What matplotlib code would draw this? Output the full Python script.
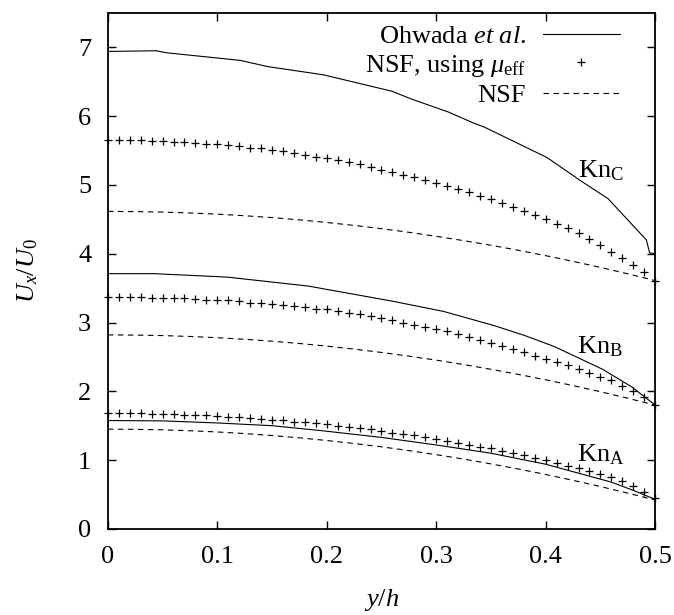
import numpy as np
import matplotlib
matplotlib.use('Agg')
import matplotlib.pyplot as plt

plt.rcParams['font.family'] = 'Liberation Serif'
plt.rcParams['mathtext.fontset'] = 'custom'
plt.rcParams['mathtext.rm'] = 'Liberation Serif'
plt.rcParams['mathtext.it'] = 'Liberation Serif:italic'
plt.rcParams['font.size'] = 19

# Ohwada et al. (solid)
ohw_c_y = [0.0, 0.044, 0.054, 0.121, 0.146, 0.197, 0.260, 0.277, 0.311, 0.334, 0.344, 0.401, 0.432, 0.457, 0.492, 0.495, 0.5]
ohw_c_u = [6.94, 6.95, 6.92, 6.81, 6.72, 6.60, 6.36, 6.25, 6.06, 5.90, 5.84, 5.40, 5.06, 4.80, 4.20, 4.01, 4.00]
ohw_b_y = [0.0, 0.042, 0.109, 0.183, 0.260, 0.307, 0.354, 0.381, 0.408, 0.452, 0.479, 0.5]
ohw_b_u = [3.71, 3.71, 3.66, 3.53, 3.31, 3.16, 2.95, 2.81, 2.65, 2.32, 2.06, 1.80]
ohw_a_y = [0.0, 0.05, 0.10, 0.15, 0.194, 0.25, 0.30, 0.35, 0.40, 0.438, 0.46, 0.48, 0.5]
ohw_a_u = [1.575, 1.57, 1.54, 1.50, 1.43, 1.33, 1.22, 1.10, 0.94, 0.775, 0.68, 0.56, 0.43]

# NSF using mu_eff (+ markers)
mk_y = [0.00, 0.01, 0.02, 0.03, 0.04, 0.05, 0.06, 0.07, 0.08, 0.09,
        0.10, 0.11, 0.12, 0.13, 0.14, 0.15, 0.16, 0.17, 0.18, 0.19,
        0.20, 0.21, 0.22, 0.23, 0.24, 0.25, 0.26, 0.27, 0.28, 0.29,
        0.30, 0.31, 0.32, 0.33, 0.34, 0.35, 0.36, 0.37, 0.38, 0.39,
        0.40, 0.41, 0.42, 0.43, 0.44, 0.45, 0.46, 0.47, 0.48, 0.49, 0.50]
eff_c = [5.66, 5.66, 5.65, 5.65, 5.64, 5.64, 5.63, 5.62, 5.61, 5.60,
         5.59, 5.58, 5.56, 5.54, 5.53, 5.51, 5.49, 5.46, 5.44, 5.41,
         5.39, 5.36, 5.33, 5.30, 5.26, 5.22, 5.19, 5.15, 5.11, 5.07,
         5.03, 4.98, 4.94, 4.89, 4.84, 4.79, 4.74, 4.68, 4.62, 4.56,
         4.50, 4.43, 4.37, 4.30, 4.21, 4.12, 4.03, 3.94, 3.84, 3.73, 3.61]
eff_b = [3.37, 3.37, 3.37, 3.37, 3.36, 3.36, 3.35, 3.35, 3.34, 3.33,
         3.32, 3.32, 3.31, 3.29, 3.28, 3.27, 3.25, 3.24, 3.22, 3.20,
         3.19, 3.17, 3.14, 3.12, 3.09, 3.06, 3.03, 3.00, 2.97, 2.94,
         2.90, 2.87, 2.83, 2.79, 2.74, 2.70, 2.66, 2.61, 2.57, 2.52,
         2.47, 2.43, 2.38, 2.33, 2.27, 2.21, 2.16, 2.08, 2.00, 1.91, 1.80]
eff_a = [1.68, 1.68, 1.68, 1.68, 1.67, 1.67, 1.67, 1.66, 1.65, 1.65,
         1.64, 1.63, 1.62, 1.61, 1.60, 1.59, 1.58, 1.56, 1.55, 1.54,
         1.52, 1.50, 1.48, 1.47, 1.45, 1.42, 1.40, 1.38, 1.36, 1.33,
         1.31, 1.28, 1.25, 1.22, 1.19, 1.17, 1.13, 1.10, 1.07, 1.03,
         1.00, 0.96, 0.92, 0.89, 0.84, 0.80, 0.75, 0.70, 0.62, 0.54, 0.45]

# NSF (dashed)
nsf_y = [0.0, 0.025, 0.05, 0.075, 0.1, 0.125, 0.15, 0.175, 0.2, 0.225, 0.25,
         0.275, 0.3, 0.325, 0.35, 0.375, 0.4, 0.425, 0.45, 0.475, 0.5]
nsf_c = [4.615, 4.612, 4.605, 4.592, 4.575, 4.552, 4.525, 4.492, 4.454, 4.411, 4.364,
         4.311, 4.253, 4.190, 4.123, 4.050, 3.972, 3.889, 3.801, 3.708, 3.61]
nsf_b = [2.82, 2.817, 2.810, 2.797, 2.779, 2.756, 2.728, 2.695, 2.657, 2.613, 2.565,
         2.511, 2.453, 2.389, 2.320, 2.246, 2.167, 2.083, 1.994, 1.899, 1.80]
nsf_a = [1.45, 1.447, 1.440, 1.427, 1.409, 1.386, 1.357, 1.324, 1.285, 1.241, 1.193,
         1.138, 1.079, 1.015, 0.945, 0.871, 0.791, 0.706, 0.616, 0.520, 0.42]

kn_labels = [r'Kn$_{\rm C}$', r'Kn$_{\rm B}$', r'Kn$_{\rm A}$']
kn_pos = [(0.45, 5.20), (0.45, 2.65), (0.45, 1.08)]

fig = plt.figure(figsize=(6.74, 6.15), dpi=100)
ax = fig.add_axes([0.160, 0.140, 0.812, 0.839])

lw = 0.8
dash = (0, (5, 4))
mk = dict(ls='none', marker='+', ms=5.5, mew=0.9, color='black', clip_on=False)
ax.plot(ohw_c_y, ohw_c_u, color='black', lw=lw, label=r'Ohwada $et\ al.$')
ax.plot(mk_y, eff_c, label=r'NSF, using $\mu_{\rm eff}$', **mk)
ax.plot(nsf_y, nsf_c, color='black', lw=lw, ls=dash, label='NSF')

ax.plot(ohw_b_y, ohw_b_u, color='black', lw=lw)
ax.plot(mk_y, eff_b, **mk)
ax.plot(nsf_y, nsf_b, color='black', lw=lw, ls=dash)

ax.plot(ohw_a_y, ohw_a_u, color='black', lw=lw)
ax.plot(mk_y, eff_a, **mk)
ax.plot(nsf_y, nsf_a, color='black', lw=lw, ls=dash)

for lab, (px, py) in zip(kn_labels, kn_pos):
    ax.text(px, py, lab, ha='center', va='center')

ax.set_xlim(0, 0.5)
ax.set_ylim(0, 7.5)
ax.set_xticks([0, 0.1, 0.2, 0.3, 0.4, 0.5])
ax.set_xticklabels(['0', '0.1', '0.2', '0.3', '0.4', '0.5'])
ax.set_yticks([0, 1, 2, 3, 4, 5, 6, 7])
ax.tick_params(direction='in', length=6, width=1, top=True, right=True)
ax.tick_params(axis='x', pad=12)
ax.tick_params(axis='y', pad=12)
for sp in ax.spines.values():
    sp.set_linewidth(1.3)

ax.set_xlabel(r'$y/h$')
ax.set_ylabel(r'$U_x/U_0$')
ax.xaxis.set_label_coords(0.5, -0.112)
ax.yaxis.set_label_coords(-0.124, 0.5)

ax.legend(loc='upper right', frameon=False, markerfirst=False,
          handlelength=2.9, handletextpad=0.65, labelspacing=0.18,
          borderaxespad=0.0, borderpad=0.2, bbox_to_anchor=(0.945, 0.988))

fig.savefig('out.png', dpi=100)
